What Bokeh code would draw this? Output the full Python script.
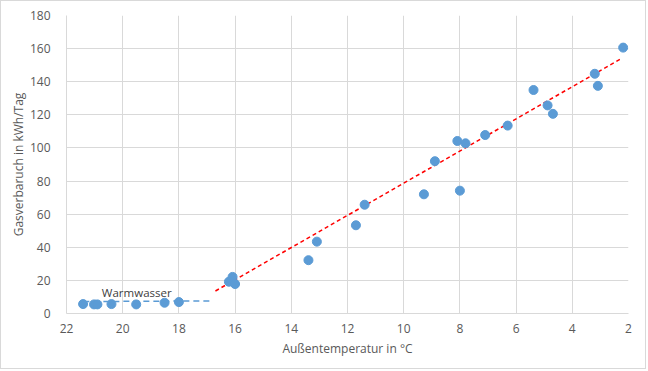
from bokeh.plotting import figure
from bokeh.models import Range1d, FixedTicker, Label, Title
from bokeh.embed import file_html
from bokeh.resources import INLINE

# Data
temp = [21.41, 21.02, 20.9, 20.4, 19.52, 18.51, 18.0, 16.22, 16.09, 16.0,
        13.39, 13.09, 11.7, 11.39, 9.28, 8.0, 8.89, 8.09, 7.8, 7.1,
        6.3, 5.38, 4.88, 4.69, 3.2, 3.09, 2.19]
gas = [5.7, 5.5, 5.5, 5.7, 5.5, 6.5, 6.9, 19.2, 22.1, 17.8,
       32.2, 43.4, 53.3, 65.7, 72.0, 74.2, 92.0, 104.2, 102.8, 107.8,
       113.5, 135.0, 125.7, 120.6, 144.8, 137.5, 160.6]

heat_trend_x = [16.7, 2.25]
heat_trend_y = [13.6, 154.0]
ww_trend_x = [21.4, 16.9]
ww_trend_y = [7.2, 7.6]

x_ticks = [2, 4, 6, 8, 10, 12, 14, 16, 18, 20, 22]
y_ticks = [0, 20, 40, 60, 80, 100, 120, 140, 160, 180]

FONT = "Open Sans"
GRAY = "#595959"

p = figure(width=646, height=369, output_backend="svg", toolbar_location=None,
           x_range=Range1d(22, 2), y_range=Range1d(0, 180),
           min_border_left=65, min_border_right=19, min_border_top=14, min_border_bottom=57)
p.styles = {"border": "1px solid #d9d9d9"}

p.outline_line_color = None
p.background_fill_color = "white"
p.border_fill_color = "white"

for ax in (p.xaxis[0], p.yaxis[0]):
    ax.major_tick_line_color = None
    ax.minor_tick_line_color = None
    ax.axis_line_color = "#d9d9d9"
    ax.major_label_text_color = GRAY
    ax.major_label_text_font = FONT
    ax.major_label_text_font_size = "12px"
    ax.axis_label_text_color = GRAY
    ax.axis_label_text_font = FONT
    ax.axis_label_text_font_size = "12px"
    ax.axis_label_text_font_style = "normal"

p.xaxis.ticker = FixedTicker(ticks=x_ticks)
p.yaxis.ticker = FixedTicker(ticks=y_ticks)
p.xaxis.axis_label = "Außentemperatur in °C"
p.xaxis.major_label_standoff = 4
p.yaxis.major_label_standoff = 10
p.xaxis.axis_label_standoff = 4

p.xgrid.ticker = FixedTicker(ticks=x_ticks)
p.ygrid.ticker = FixedTicker(ticks=y_ticks)
p.xgrid.grid_line_color = "#d9d9d9"
p.ygrid.grid_line_color = "#d9d9d9"

p.line(ww_trend_x, ww_trend_y, line_color="#5b9bd5", line_width=1.5, line_dash="6 4")
p.line(heat_trend_x, heat_trend_y, line_color="#ff0000", line_width=1.5, line_dash="4 3")

p.scatter(temp, gas, size=9, fill_color="#5b9bd5", line_color="#5b9bd5")

p.add_layout(Label(x=19.5, y=12.8, text="Warmwasser", text_align="center",
                   text_baseline="middle", text_font=FONT, text_font_size="11.5px",
                   text_color="#404040"))

# y-axis title, placed slightly below the frame centre as in the original
p.add_layout(Title(text="Gasverbaruch in kWh/Tag", align="center", offset=22,
                   standoff=0, text_font=FONT, text_font_size="12px",
                   text_font_style="normal", text_color=GRAY), "left")

open("out.html", "w").write(file_html(p, INLINE))
